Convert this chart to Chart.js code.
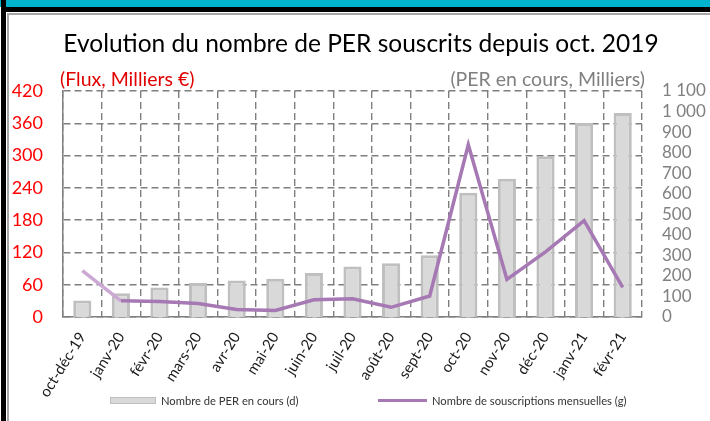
<!DOCTYPE html>
<html lang="fr">
<head>
<meta charset="utf-8">
<script src="https://cdn.jsdelivr.net/npm/chart.js@4/dist/chart.umd.min.js"></script>
<style>
  html, body { margin: 0; padding: 0; background: #fff; }
  #frame { position: relative; width: 710px; height: 421px; overflow: hidden; font-family: Lato, sans-serif; }
  .band { position: absolute; left: 0; top: 0; width: 710px; height: 7px; background: #00b3cc; }
  .rule { position: absolute; left: 1px; top: 7px; width: 709px; height: 5px; background: #000; }
  .rule2 { position: absolute; left: 7px; top: 13px; width: 703px; height: 2px; background: #a6a6a6; }
  .side { position: absolute; left: 1px; top: 0; width: 5px; height: 421px; background: #000; }
  .side2 { position: absolute; left: 7px; top: 13px; width: 2px; height: 408px; background: #a6a6a6; }
  canvas { position: absolute; left: 0; top: 0; }
  .leg { position: absolute; top: 392px; font-size: 11.2px; color: #333; white-space: nowrap; }
  .leg span { display: inline-block; vertical-align: middle; }
</style>
</head>
<body>
<div id="frame">
  <div class="band"></div>
  <div class="rule"></div>
  <div class="rule2"></div>
  <div class="side"></div>
  <div class="side2"></div>
  <canvas id="lineChart" width="710" height="421"></canvas>
  <div class="leg" id="legBar" style="left:110px"><span style="width:44px;height:5px;background:#d9d9d9;border:1px solid #bfbfbf;margin-right:5px"></span><span class="t"></span></div>
  <div class="leg" id="legLine" style="left:378px"><span style="width:49px;height:3px;background:#a678b4;margin-right:5px"></span><span class="t"></span></div>
</div>
<script>
const categories = ['oct-déc-19', 'janv-20', 'févr-20', 'mars-20', 'avr-20', 'mai-20', 'juin-20',
  'juil-20', 'août-20', 'sept-20', 'oct-20', 'nov-20', 'déc-20', 'janv-21', 'févr-21'];
// stock of PER (thousands, right axis)
const perEnCours = [80, 115, 143, 165, 178, 186, 214, 246, 262, 300, 605, 673, 782, 944, 993];
// monthly subscriptions (flows, thousands €, left axis)
const souscriptions = [86, 30, 29, 25, 14, 12, 32, 34, 18, 39, 320, 70, 121, 179, 55];

const leftTicks = [0, 60, 120, 180, 240, 300, 360, 420];
const rightTicks = [0, 100, 200, 300, 400, 500, 600, 700, 800, 900, 1000, 1100];

const titre = 'Evolution du nombre de PER souscrits depuis oct. 2019';
const axeGauche = '(Flux, Milliers €)';
const axeDroit = '(PER en cours, Milliers)';
const labelBarres = 'Nombre de PER en cours (d)';
const labelLigne = 'Nombre de souscriptions mensuelles (g)';

const fmt = (v) => String(v).replace(/\B(?=(\d{3})+(?!\d))/g, ' ');

const headers = {
  id: 'headers',
  afterDraw(chart) {
    const { ctx, chartArea } = chart;
    ctx.save();
    ctx.textBaseline = 'middle';
    ctx.fillStyle = '#000';
    ctx.font = '24.5px Lato';
    ctx.textAlign = 'center';
    ctx.fillText(titre, 361, 44);
    ctx.font = '19.5px Lato';
    ctx.textAlign = 'left';
    ctx.fillStyle = '#e00000';
    ctx.fillText(axeGauche, chartArea.left - 3, 80);
    ctx.textAlign = 'right';
    ctx.fillStyle = '#808080';
    ctx.fillText(axeDroit, chartArea.right + 3, 80);
    ctx.restore();
  },
};

new Chart(document.getElementById('lineChart').getContext('2d'), {
  type: 'bar',
  data: {
    labels: categories,
    datasets: [{
      type: 'line',
      label: labelLigne,
      data: souscriptions,
      yAxisID: 'y',
      borderColor: '#a678b4',
      borderWidth: 3.5,
      pointRadius: 0,
      tension: 0,
      order: 0,
      segment: {
        borderColor: (c) => (c.p0DataIndex === 0 ? '#cba9d4' : '#a678b4'),
      },
    }, {
      type: 'bar',
      label: labelBarres,
      data: perEnCours,
      yAxisID: 'y1',
      backgroundColor: '#d9d9d9',
      borderColor: '#bfbfbf',
      borderWidth: 3,
      barPercentage: 0.47,
      categoryPercentage: 1,
      order: 1,
    }],
  },
  options: {
    responsive: false,
    animation: false,
    layout: { padding: { top: 91, left: 0, right: 0, bottom: 10 } },
    plugins: { legend: { display: false }, tooltip: { enabled: false } },
    scales: {
      x: {
        offset: true,
        grid: { offset: true, drawTicks: false, color: '#7f7f7f', lineWidth: 1.4 },
        // border.dash dashes the grid lines, the axis line itself stays solid
        border: { display: true, color: '#808080', width: 1.5, dash: [7, 4] },
        ticks: {
          autoSkip: false, minRotation: 58, maxRotation: 58, padding: 12,
          color: '#1a1a1a', font: { family: 'Lato', size: 15 },
        },
        // tall enough that the rotated labels are not clipped
        afterFit: (s) => { s.height = 94; },
      },
      y: {
        position: 'left',
        min: 0, max: 420,
        afterBuildTicks: (s) => { s.ticks = leftTicks.map((v) => ({ value: v })); },
        grid: { drawTicks: false, color: '#7f7f7f', lineWidth: 1.4 },
        border: { display: true, color: '#808080', width: 1.5, dash: [7, 4] },
        ticks: { autoSkip: false, padding: 20, color: '#ff0000', font: { family: 'Lato', size: 18 } },
        afterFit: (s) => { s.width = 63; },
      },
      y1: {
        position: 'right',
        min: 0, max: 1100,
        afterBuildTicks: (s) => { s.ticks = rightTicks.map((v) => ({ value: v })); },
        grid: { display: false, drawTicks: false },
        border: { display: false },
        ticks: {
          autoSkip: false, padding: 20, color: '#808080',
          font: { family: 'Lato', size: 17 }, callback: (v) => fmt(v),
        },
        afterFit: (s) => { s.width = 68; },
      },
    },
  },
  plugins: [headers],
});

document.querySelector('#legBar .t').textContent = labelBarres;
document.querySelector('#legLine .t').textContent = labelLigne;
</script>
</body>
</html>
